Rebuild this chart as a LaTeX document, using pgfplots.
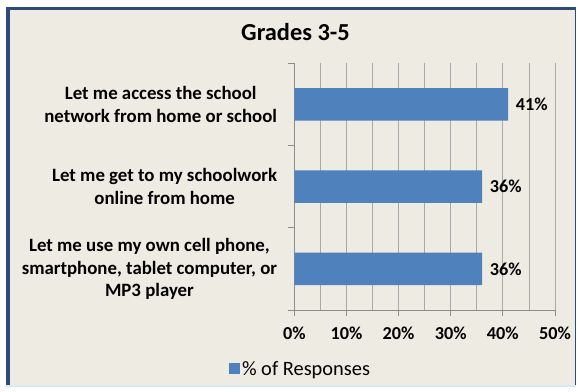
\documentclass[border=0pt]{standalone}
\usepackage{fontspec}
\setmainfont{Carlito}
\usepackage{pgfplots}
\pgfplotsset{compat=1.18}
\definecolor{bg}{HTML}{EEEBE3}
\definecolor{barblue}{HTML}{4F81BD}
\definecolor{frameblue}{HTML}{2E4A77}
\definecolor{gridgray}{HTML}{A8A8A8}
\definecolor{axisgray}{HTML}{8C8C8C}
\definecolor{lightedge}{HTML}{D6EAF0}
\begin{document}
\begin{tikzpicture}[x=1bp,y=1bp]
\fill[white] (0,0) rectangle (578,391);
\fill[frameblue] (6,4.3) rectangle (575.5,383.7);
\fill[lightedge] (6,4.3) rectangle (575.5,6.5);
\fill[bg] (10,6.5) rectangle (574.5,381.3);
\node[anchor=base, font=\bfseries\fontsize{24.5}{29}\selectfont] at (295.5,350.3) {Grades 3-5};
\begin{axis}[
  /pgf/number format/assume math mode=true,
  at={(294.3bp,81bp)}, anchor=south west,
  scale only axis, width=260.7bp, height=246.7bp,
  xmin=0, xmax=50, ymin=-0.5, ymax=2.5,
  xbar, bar width=32.4bp,
  axis x line*=bottom, axis y line*=left,
  axis line style={-, draw=axisgray, line width=0.8bp},
  xtick={0,10,20,30,40,50},
  minor xtick={5,15,25,35,45},
  xtick pos=bottom, ytick pos=left,
  xmajorgrids, xminorgrids,
  major grid style={draw=gridgray, line width=0.75bp},
  minor grid style={draw=gridgray, line width=0.75bp},
  tick align=outside,
  major tick length=6bp, minor tick length=0bp,
  tick style={draw=axisgray, line width=0.8bp},
  xticklabel={\pgfmathprintnumber{\tick}\%},
  xticklabel style={font=\bfseries\fontsize{18.3}{22}\selectfont, inner sep=0pt, yshift=-11bp},
  ytick={0,1,2},
  yticklabels={{Let me use my own cell phone,\\smartphone, tablet computer, or\\MP3 player},
               {Let me get to my schoolwork\\online from home},
               {Let me access the school\\network from home or school}},
  yticklabel style={font=\bfseries\fontsize{18.9}{22.5}\selectfont, align=center, inner sep=0pt, xshift=-11bp},
  ytick style={draw=none},
  extra y ticks={-0.5,0.5,1.5,2.5},
  extra y tick labels={},
  extra y tick style={ytick style={draw=axisgray}, yticklabel style={draw=none}},
  nodes near coords={\pgfmathprintnumber{\pgfplotspointmeta}\%},
  point meta=x,
  every node near coord/.append style={font=\bfseries\fontsize{18.3}{22}\selectfont, anchor=west, inner sep=0pt, xshift=7.7bp},
  legend style={at={(0.024,-0.239)}, anchor=center, draw=none, fill=none, inner sep=0pt,
     font=\fontsize{20.5}{24}\selectfont},
  legend image code/.code={\fill[barblue] (0bp,-5.5bp) rectangle (11bp,5.5bp);},
  legend cell align=left,
]
\addplot[fill=barblue, draw=none] coordinates {(36,0) (36,1) (41,2)};
\addlegendentry{\% of Responses}
\end{axis}
\end{tikzpicture}
\end{document}
